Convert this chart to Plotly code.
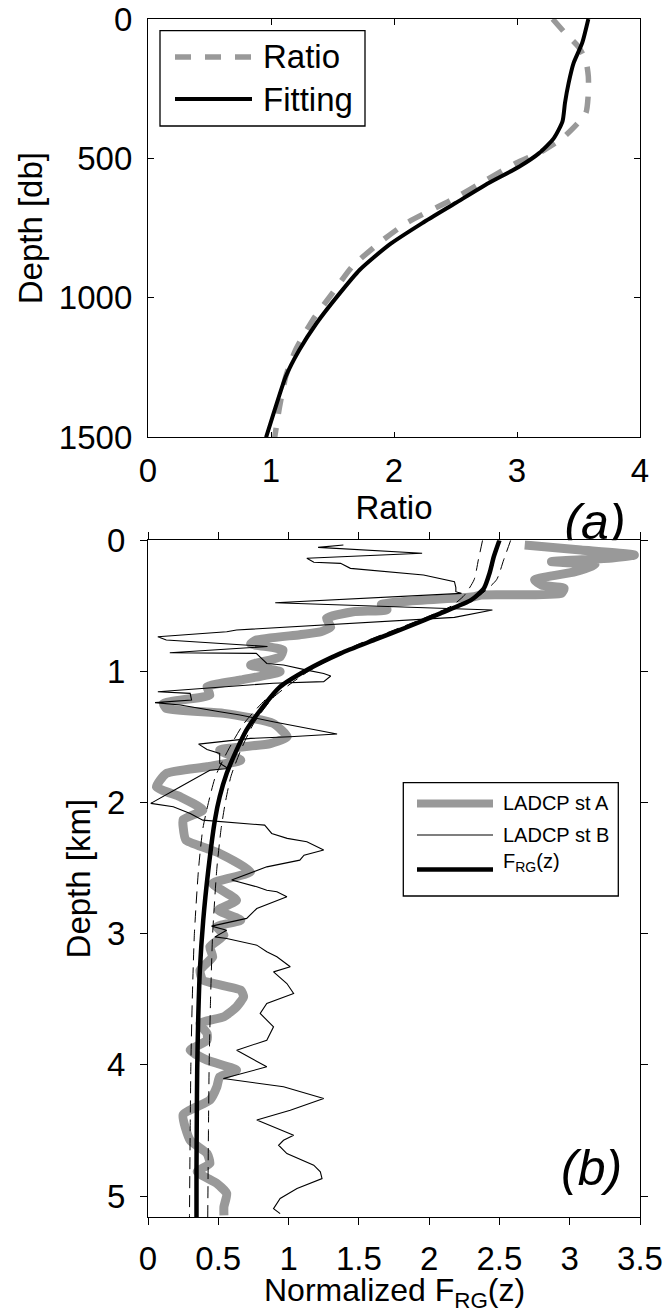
import plotly.graph_objects as go

# ---------------- data ----------------
# Panel (a): ratio vs depth
fit_depth = [0, 86, 158, 229, 301, 367, 427, 481, 529, 588, 660, 732, 810, 900, 983, 1091, 1187, 1282, 1402, 1500]
fit_ratio = [3.58, 3.53, 3.46, 3.42, 3.39, 3.37, 3.30, 3.18, 3.02, 2.77, 2.50, 2.23, 1.96, 1.72, 1.56, 1.37, 1.23, 1.12, 1.03, 0.96]

ratio_depth = [0, 50, 100, 150, 206, 265, 337, 385, 427, 475, 517, 577, 648, 732, 803, 888, 983, 1079, 1187, 1282, 1390, 1500]
ratio_val = [3.29, 3.39, 3.50, 3.56, 3.58, 3.58, 3.56, 3.47, 3.37, 3.20, 2.99, 2.75, 2.47, 2.10, 1.88, 1.66, 1.50, 1.34, 1.20, 1.12, 1.07, 1.03]

# Panel (b): normalized F_RG vs depth (km)
frg_z = [0, 0.125, 0.25, 0.366, 0.455, 0.557, 0.659, 0.76, 0.862, 0.989, 1.117, 1.294, 1.447, 1.6, 1.777, 1.956, 2.133, 2.515, 2.896, 3.278, 3.659, 4.04, 4.42, 4.8, 5.16]
frg_val = [2.50, 2.46, 2.43, 2.39, 2.30, 2.08, 1.85, 1.61, 1.37, 1.13, 0.94, 0.80, 0.70, 0.63, 0.56, 0.51, 0.476, 0.429, 0.393, 0.369, 0.357, 0.350, 0.347, 0.345, 0.345]

env_z = [0, 0.15, 0.3, 0.42, 0.5, 0.6, 0.8, 1.0, 1.2, 1.4, 1.6, 1.8, 2.0, 2.2, 2.5, 3.0, 3.5, 4.0, 4.5, 5.16]
env_upper = [2.58, 2.53, 2.48, 2.36, 2.22, 1.98, 1.50, 1.14, 0.89, 0.75, 0.66, 0.59, 0.55, 0.52, 0.49, 0.46, 0.445, 0.435, 0.43, 0.425]
env_lower = [2.38, 2.35, 2.32, 2.25, 2.16, 1.95, 1.48, 1.11, 0.85, 0.68, 0.57, 0.48, 0.43, 0.39, 0.36, 0.33, 0.315, 0.305, 0.30, 0.295]

stA_z = [0.036, 0.074, 0.112, 0.135, 0.163, 0.188, 0.239, 0.302, 0.341, 0.366, 0.405, 0.417, 0.43, 0.49, 0.53, 0.545,
         0.595, 0.66, 0.697, 0.72, 0.76, 0.79, 0.836, 0.888, 0.951, 1.002, 1.065, 1.117, 1.18, 1.243, 1.282, 1.32,
         1.396, 1.498, 1.55, 1.6, 1.676, 1.727, 1.778, 1.88, 1.956, 2.057, 2.13, 2.185, 2.286, 2.35, 2.388, 2.528,
         2.617, 2.744, 2.82, 2.896, 2.947, 3.01, 3.1, 3.176, 3.278, 3.354, 3.43, 3.481, 3.557, 3.633, 3.684, 3.76,
         3.812, 3.888, 3.964, 4.04, 4.091, 4.167, 4.269, 4.38, 4.575, 4.676, 4.752, 4.815, 4.905, 4.981, 5.083, 5.147]
stA_val = [2.68, 3.08, 3.46, 3.30, 2.87, 3.18, 3.04, 2.75, 2.80, 2.96, 2.94, 2.37, 2.32, 1.66, 1.70, 1.46,
           1.27, 1.30, 1.23, 1.08, 0.77, 0.73, 0.96, 0.94, 0.73, 0.94, 0.66, 0.42, 0.44, 0.11, 0.13, 0.54,
           0.89, 0.99, 0.87, 0.51, 0.66, 0.42, 0.13, 0.06, 0.23, 0.39, 0.25, 0.25, 0.27, 0.42, 0.51, 0.73,
           0.46, 0.63, 0.50, 0.66, 0.49, 0.54, 0.44, 0.46, 0.37, 0.39, 0.66, 0.68, 0.63, 0.54, 0.37, 0.42,
           0.42, 0.30, 0.42, 0.63, 0.51, 0.49, 0.44, 0.25, 0.30, 0.42, 0.44, 0.35, 0.49, 0.56, 0.54, 0.54]

stB_z = [0.036, 0.054, 0.099, 0.137, 0.168, 0.176, 0.214, 0.232, 0.265, 0.316, 0.36, 0.392, 0.405, 0.476, 0.532,
         0.588, 0.684, 0.697, 0.735, 0.76, 0.80, 0.81, 0.857, 0.862, 0.939, 0.951, 0.99, 1.015, 1.035, 1.078, 1.09,
         1.155, 1.167, 1.218, 1.238, 1.256, 1.307, 1.332, 1.383, 1.477, 1.498, 1.51, 1.554, 1.595, 1.625, 1.70,
         1.74, 1.753, 1.879, 2.006, 2.032, 2.083, 2.134, 2.172, 2.235, 2.273, 2.299, 2.362, 2.401, 2.439, 2.49,
         2.591, 2.642, 2.668, 2.68, 2.718, 2.808, 2.883, 2.942, 2.973, 3.024, 3.036, 3.087, 3.138, 3.176, 3.252,
         3.291, 3.38, 3.456, 3.532, 3.608, 3.659, 3.71, 3.812, 3.888, 4.015, 4.104, 4.167, 4.257, 4.346, 4.42,
         4.536, 4.575, 4.613, 4.676, 4.765, 4.816, 4.867, 4.943, 5.019, 5.096, 5.134]
stB_val = [1.39, 1.21, 1.95, 1.13, 1.18, 1.37, 1.44, 1.61, 1.96, 2.18, 2.19, 2.19, 2.23, 0.905, 2.45,
           2.18, 0.63, 0.56, 0.07, 0.13, 0.77, 0.85, 0.155, 0.77, 0.845, 0.964, 1.13, 1.25, 1.30, 1.25, 0.89,
           0.07, 0.30, 0.31, 0.05, 0.23, 0.51, 0.655, 0.89, 1.345, 1.01, 0.73, 0.36, 0.42, 0.51, 0.51,
           0.57, 0.44, 0.23, 0.02, 0.18, 0.30, 0.39, 0.83, 0.88, 0.99, 1.13, 1.25, 1.11, 1.08, 0.845,
           0.595, 0.774, 0.845, 0.917, 0.988, 0.774, 0.702, 0.452, 0.56, 0.476, 0.56, 0.774, 0.845, 0.917, 1.012,
           0.893, 0.988, 1.036, 0.845, 0.798, 0.845, 0.893, 0.845, 0.631, 0.845, 0.536, 0.964, 1.25, 1.012, 0.774,
           1.036, 0.964, 0.929, 0.988, 1.179, 1.226, 1.238, 1.06, 0.94, 0.893, 0.94]

# tick labels
a_xticks = [0, 1, 2, 3, 4]
a_yticks = [0, 500, 1000, 1500]
b_xticks = [0, 0.5, 1, 1.5, 2, 2.5, 3, 3.5]
b_yticks = [0, 1, 2, 3, 4, 5]

# ---------------- layout helpers ----------------
W_PAGE, H_PAGE = 667, 1314
L, R, T, B = 148, 640, 19, 1217
PW, PH = R - L, B - T


def px2x(px):
    return (px - L) / PW


def px2y(py):
    return (B - py) / PH


GRAY = "rgb(153,153,153)"
FONT = "Liberation Sans, Arial, sans-serif"

fig = go.Figure()

# Panel (a)
fig.add_trace(go.Scatter(x=ratio_val, y=ratio_depth, mode="lines", name="Ratio",
                         line=dict(color=GRAY, width=5.5, dash="16px,14px", shape="spline", smoothing=0.6),
                         xaxis="x", yaxis="y", showlegend=False))
fig.add_trace(go.Scatter(x=fit_ratio, y=fit_depth, mode="lines", name="Fitting",
                         line=dict(color="black", width=4, shape="spline", smoothing=0.6),
                         xaxis="x", yaxis="y", showlegend=False))

# Panel (b)
fig.add_trace(go.Scatter(x=stA_val, y=stA_z, mode="lines", name="LADCP st A",
                         line=dict(color=GRAY, width=9, shape="spline", smoothing=0.5),
                         xaxis="x2", yaxis="y2", showlegend=False))
fig.add_trace(go.Scatter(x=stB_val, y=stB_z, mode="lines", name="LADCP st B",
                         line=dict(color="black", width=1.1),
                         xaxis="x2", yaxis="y2", showlegend=False))
for env in (env_lower, env_upper):
    fig.add_trace(go.Scatter(x=env, y=env_z, mode="lines", showlegend=False,
                             line=dict(color="black", width=1, dash="12px,7px", shape="spline", smoothing=0.6),
                             xaxis="x2", yaxis="y2", hoverinfo="skip"))
fig.add_trace(go.Scatter(x=frg_val, y=frg_z, mode="lines", name="F_RG(z)",
                         line=dict(color="black", width=4.5, shape="spline", smoothing=0.6),
                         xaxis="x2", yaxis="y2", showlegend=False))

# "(a)" label, clipped by panel (b) top edge
fig.add_trace(go.Scatter(x=[595], y=[526], mode="text", text=["<i>(a)</i>"],
                         textposition="middle center", cliponaxis=True,
                         textfont=dict(size=50, color="black", family=FONT),
                         xaxis="x3", yaxis="y3", showlegend=False, hoverinfo="skip"))

axis_common = dict(showgrid=False, zeroline=False, showline=True, linecolor="black", linewidth=1.3,
                   mirror="ticks", tickcolor="black", tickwidth=1.3,
                   tickfont=dict(size=33, color="black", family=FONT))

fig.update_layout(
    width=W_PAGE, height=H_PAGE,
    margin=dict(l=L, r=W_PAGE - R, t=T, b=H_PAGE - B, autoexpand=False),
    paper_bgcolor="white", plot_bgcolor="rgba(0,0,0,0)",
    font=dict(family=FONT, color="black"),
    showlegend=False,
    xaxis=dict(axis_common, domain=[0, 1], anchor="y", range=[0, 4], tickvals=a_xticks,
               ticks="inside", ticklen=5.5, ticklabelstandoff=4,
               title=dict(text="Ratio", font=dict(size=33), standoff=0)),
    yaxis=dict(axis_common, domain=[px2y(437.3), 1], anchor="x", range=[1500, 0], tickvals=a_yticks,
               ticks="inside", ticklen=5.5, ticklabelstandoff=8,
               title=dict(text="Depth [db]", font=dict(size=33), standoff=6)),
    xaxis2=dict(axis_common, domain=[0, 1], anchor="y2", range=[0, 3.5], tickvals=b_xticks,
                ticks="outside", ticklen=7, ticklabelstandoff=5),
    yaxis2=dict(axis_common, domain=[0, px2y(540.3)], anchor="x2", range=[5.16, 0], tickvals=b_yticks,
                ticks="outside", ticklen=7, ticklabelstandoff=8,
                title=dict(text="Depth [km]", font=dict(size=33), standoff=6)),
    xaxis3=dict(domain=[0, 1], anchor="y3", range=[L, R], visible=False, fixedrange=True),
    yaxis3=dict(domain=[px2y(540.3), px2y(470)], anchor="x3", range=[540.3, 470], visible=False, fixedrange=True),
)

# ---------------- manual legends ----------------
shapes = []
annotations = []

# legend (a)
shapes.append(dict(type="rect", xref="paper", yref="paper", x0=px2x(160), x1=px2x(365), y0=px2y(126), y1=px2y(30.7),
                   line=dict(color="black", width=1.3), fillcolor="white", layer="above"))
shapes.append(dict(type="line", xref="paper", yref="paper", x0=px2x(175), x1=px2x(252), y0=px2y(57), y1=px2y(57),
                   line=dict(color=GRAY, width=5.5, dash="16px,14px"), layer="above"))
shapes.append(dict(type="line", xref="paper", yref="paper", x0=px2x(175), x1=px2x(252), y0=px2y(99), y1=px2y(99),
                   line=dict(color="black", width=4), layer="above"))
annotations.append(dict(text="Ratio", xref="paper", yref="paper", x=px2x(261), y=px2y(57), xanchor="left",
                        yanchor="middle", showarrow=False, font=dict(size=33, color="black", family=FONT)))
annotations.append(dict(text="Fitting", xref="paper", yref="paper", x=px2x(261), y=px2y(100), xanchor="left",
                        yanchor="middle", showarrow=False, font=dict(size=33, color="black", family=FONT)))

# legend (b)
shapes.append(dict(type="rect", xref="paper", yref="paper", x0=px2x(403.3), x1=px2x(618.3), y0=px2y(896), y1=px2y(782.7),
                   line=dict(color="black", width=1.3), fillcolor="white", layer="above"))
shapes.append(dict(type="line", xref="paper", yref="paper", x0=px2x(417), x1=px2x(493), y0=px2y(803.5), y1=px2y(803.5),
                   line=dict(color=GRAY, width=8), layer="above"))
shapes.append(dict(type="line", xref="paper", yref="paper", x0=px2x(417), x1=px2x(493), y0=px2y(835), y1=px2y(835),
                   line=dict(color="black", width=1.1), layer="above"))
shapes.append(dict(type="line", xref="paper", yref="paper", x0=px2x(417), x1=px2x(493), y0=px2y(869.5), y1=px2y(869.5),
                   line=dict(color="black", width=4.5), layer="above"))
for txt, py in (("LADCP st A", 803), ("LADCP st B", 835), ("F<sub>RG</sub>(z)", 862)):
    annotations.append(dict(text=txt, xref="paper", yref="paper", x=px2x(501), y=px2y(py), xanchor="left",
                            yanchor="middle", showarrow=False, font=dict(size=20, color="black", family=FONT)))

# x-axis title of panel (b)
annotations.append(dict(text="Normalized F<sub>RG</sub>(z)", xref="paper", yref="paper",
                        x=px2x(394), y=px2y(1270), xanchor="center", yanchor="top", showarrow=False,
                        font=dict(size=32, color="black", family=FONT)))

# "(b)" label
annotations.append(dict(text="<i>(b)</i>", xref="paper", yref="paper", x=px2x(591), y=px2y(1168),
                        xanchor="center", yanchor="middle", showarrow=False,
                        font=dict(size=50, color="black", family=FONT)))

fig.update_layout(shapes=shapes, annotations=annotations)

fig.write_html("out.html")
